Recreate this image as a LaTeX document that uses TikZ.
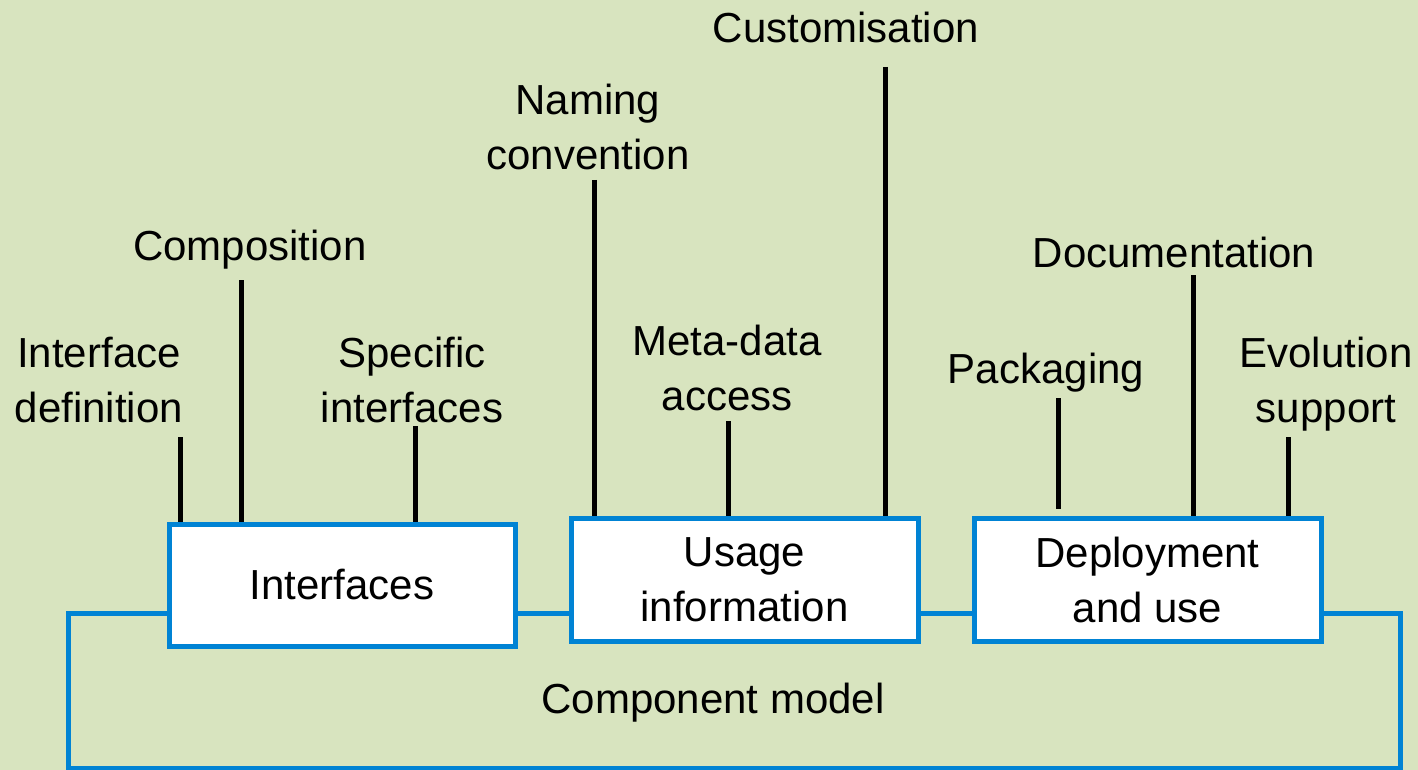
\documentclass[tikz,border=0pt]{standalone}
\usepackage{fontspec}
\setmainfont{Liberation Sans}
\definecolor{bggreen}{RGB}{216,228,191}
\definecolor{frameblue}{RGB}{0,131,212}
\pgfdeclarelayer{paper}
\pgfdeclarelayer{stems}
\pgfsetlayers{paper,stems,main}
\begin{document}
\begin{tikzpicture}[x=1pt,y=-1pt,
  every node/.style={font=\fontsize{42}{55}\selectfont, align=center, inner sep=0pt},
  lbl/.style={anchor=base},
  part/.style={draw=frameblue, line width=5pt, fill=white,
               minimum width=347pt, minimum height=123pt},
  frame/.style={draw=frameblue, line width=5pt},
  stem/.style={draw=black, line width=5pt}]

\begin{pgfonlayer}{paper}
  \fill[bggreen] (0,0) rectangle (1418,770);
\end{pgfonlayer}
\useasboundingbox (0,0) rectangle (1418,770);

% outer frame of the component model
\node[frame, minimum width=1332pt, minimum height=155pt] (model) at (734,690.5) {};
\node[lbl] (modeltext) at (713,713) {Component model};

% the three parts
\node[part, minimum width=346pt, minimum height=122pt] (ifc) at (342,585) {Interfaces};
\node[part] (usage) at (744.5,579.5) {Usage\\information};
\node[part] (deploy) at (1147.5,579.5) {Deployment\\and use};

% labels (base = baseline of the last line)
\node[lbl] (ifdef)  at (99,422)   {Interface\\definition};
\node[lbl] (compo)  at (250,260)  {Composition};
\node[lbl] (specif) at (412,422)  {Specific\\interfaces};
\node[lbl] (naming) at (588,170)  {Naming\\convention};
\node[lbl] (meta)   at (727,410)  {Meta-data\\access};
\node[lbl] (custom) at (846,43)   {Customisation};
\node[lbl] (pack)   at (1046,383) {Packaging};
\node[lbl] (doc)    at (1174,267) {Documentation};
\node[lbl] (evol)   at (1326,422) {Evolution\\support};

% stems from the labels down to the parts
\coordinate (t-ifdef)  at (180,437);
\coordinate (t-compo)  at (241,280);
\coordinate (t-specif) at (415,426);
\coordinate (t-naming) at (594,180);
\coordinate (t-meta)   at (728,421);
\coordinate (t-custom) at (885,67);
\coordinate (t-pack)   at (1058,398);
\coordinate (b-pack)   at (1058,509);
\coordinate (t-doc)    at (1193,275);
\coordinate (t-evol)   at (1288,437);

\begin{pgfonlayer}{stems}
  \draw[stem] (t-ifdef)  -- (t-ifdef  |- ifc.north);
  \draw[stem] (t-compo)  -- (t-compo  |- ifc.north);
  \draw[stem] (t-specif) -- (t-specif |- ifc.north);
  \draw[stem] (t-naming) -- (t-naming |- usage.north);
  \draw[stem] (t-meta)   -- (t-meta   |- usage.north);
  \draw[stem] (t-custom) -- (t-custom |- usage.north);
  \draw[stem] (t-pack)   -- (b-pack);
  \draw[stem] (t-doc)    -- (t-doc    |- deploy.north);
  \draw[stem] (t-evol)   -- (t-evol   |- deploy.north);
\end{pgfonlayer}
\end{tikzpicture}
\end{document}
